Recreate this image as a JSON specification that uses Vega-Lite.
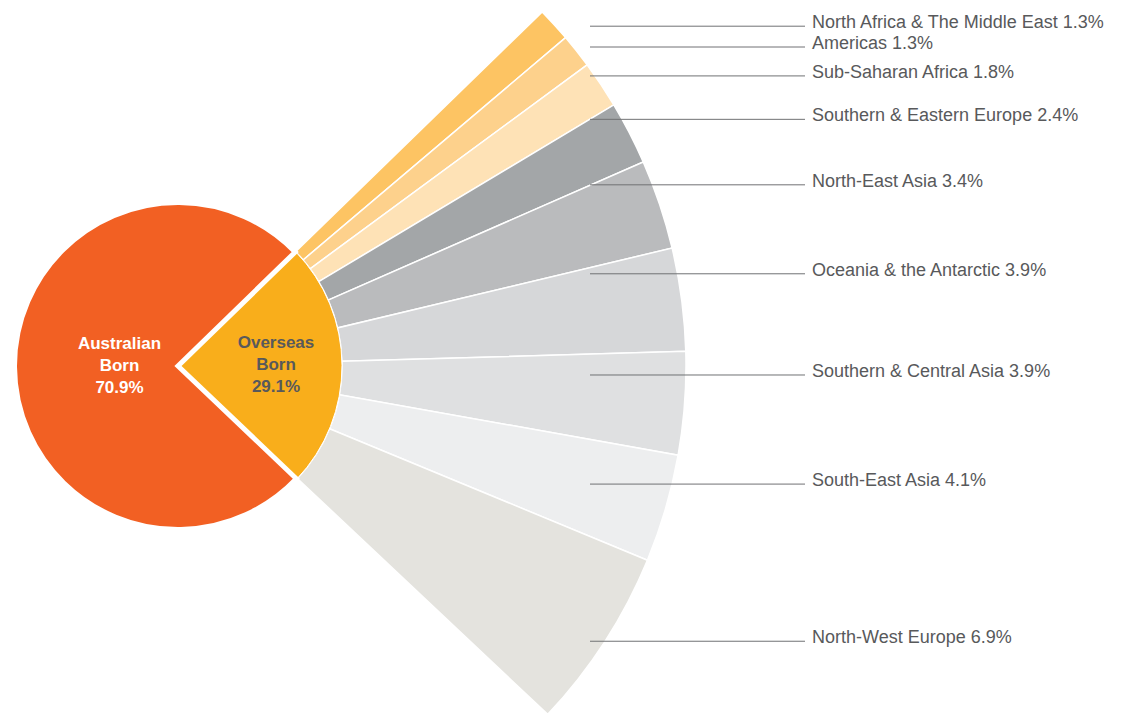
{
  "$schema": "https://vega.github.io/schema/vega-lite/v6.json",
  "padding": {"top": 8.5, "bottom": -8.5, "left": 0, "right": 0},
  "autosize": {"type": "pad"},
  "background": "white",
  "config": {"view": {"stroke": null}, "font": "Liberation Sans"},
  "datasets": {
    "born": [
      {"group": "Overseas Born", "share": 29.1},
      {"group": "Australian Born", "share": 70.9}
    ],
    "regions": [
      {"region": "North Africa & The Middle East", "share": 1.3},
      {"region": "Americas", "share": 1.3},
      {"region": "Sub-Saharan Africa", "share": 1.8},
      {"region": "Southern & Eastern Europe", "share": 2.4},
      {"region": "North-East Asia", "share": 3.4},
      {"region": "Oceania & the Antarctic", "share": 3.9},
      {"region": "Southern & Central Asia", "share": 3.9},
      {"region": "South-East Asia", "share": 4.1},
      {"region": "North-West Europe", "share": 6.9}
    ]
  },
  "spacing": 234,
  "bounds": "flush",
  "hconcat": [
    {
      "width": 356,
      "height": 713,
      "layer": [
        {
          "data": {"name": "regions"},
          "transform": [{"stack": "share", "groupby": [], "as": ["s0", "s1"]}],
          "mark": {"type": "arc", "radius": 508, "radius2": 164, "stroke": "white", "strokeWidth": 1.5},
          "encoding": {
            "theta": {"field": "s0", "type": "quantitative", "scale": {"domain": [0, 29.1, 100], "range": [0.7994, 2.3317, 7.0826]}},
            "theta2": {"field": "s1"},
            "color": {
              "field": "region",
              "type": "nominal",
              "scale": {
                "domain": ["North Africa & The Middle East", "Americas", "Sub-Saharan Africa", "Southern & Eastern Europe", "North-East Asia", "Oceania & the Antarctic", "Southern & Central Asia", "South-East Asia", "North-West Europe"],
                "range": ["#FDC463", "#FDD18C", "#FEE2B6", "#A3A6A8", "#BABBBD", "#D6D7D9", "#DFE0E1", "#EDEEEF", "#E4E3DE"]
              },
              "legend": null
            }
          }
        },
        {
          "data": {"name": "born"},
          "transform": [
            {"stack": "share", "groupby": [], "as": ["s0", "s1"]},
            {"filter": "datum.group === 'Overseas Born'"}
          ],
          "mark": {"type": "arc", "radius": 164, "color": "#F9AE1B", "stroke": "white", "strokeWidth": 1},
          "encoding": {
            "theta": {"field": "s0", "type": "quantitative", "scale": {"domain": [0, 29.1, 100], "range": [0.7994, 2.3317, 7.0826]}},
            "theta2": {"field": "s1"}
          }
        },
        {
          "data": {"name": "born"},
          "transform": [
            {"stack": "share", "groupby": [], "as": ["s0", "s1"]},
            {"filter": "datum.group === 'Australian Born'"}
          ],
          "mark": {"type": "arc", "radius": 163.5, "color": "#F26023", "stroke": "white", "strokeWidth": 5},
          "encoding": {
            "theta": {"field": "s0", "type": "quantitative", "scale": {"domain": [0, 29.1, 100], "range": [0.7994, 2.3317, 7.0826]}},
            "theta2": {"field": "s1"}
          }
        },
        {
          "data": {"name": "born"},
          "transform": [
            {"stack": "share", "groupby": [], "as": ["s0", "s1"]},
            {"fold": ["s0", "s1"]},
            {"aggregate": [{"op": "mean", "field": "value", "as": "mid"}], "groupby": ["group", "share"]},
            {"filter": "datum.group === 'Overseas Born'"}
          ],
          "mark": {
            "type": "text", "radius": 98, "align": "center", "baseline": "middle", "dy": -22,
            "fontSize": 17, "fontWeight": "bold", "lineHeight": 22, "color": "#58595B",
            "text": {"expr": "[split(datum.group, ' ')[0], split(datum.group, ' ')[1], format(datum.share, '.1f') + '%']"}
          },
          "encoding": {
            "theta": {"field": "mid", "type": "quantitative", "scale": {"domain": [0, 29.1, 100], "range": [0.7994, 2.3317, 7.0826]}}
          }
        },
        {
          "data": {"name": "born"},
          "transform": [
            {"stack": "share", "groupby": [], "as": ["s0", "s1"]},
            {"fold": ["s0", "s1"]},
            {"aggregate": [{"op": "mean", "field": "value", "as": "mid"}], "groupby": ["group", "share"]},
            {"filter": "datum.group === 'Australian Born'"}
          ],
          "mark": {
            "type": "text", "radius": 58.5, "align": "center", "baseline": "middle", "dy": -22,
            "fontSize": 17, "fontWeight": "bold", "lineHeight": 22, "color": "white",
            "text": {"expr": "[split(datum.group, ' ')[0], split(datum.group, ' ')[1], format(datum.share, '.1f') + '%']"}
          },
          "encoding": {
            "theta": {"field": "mid", "type": "quantitative", "scale": {"domain": [0, 29.1, 100], "range": [0.7994, 2.3317, 7.0826]}}
          }
        }
      ]
    },
    {
      "width": 215,
      "height": 713,
      "data": {"name": "regions"},
      "transform": [
        {"stack": "share", "groupby": [], "as": ["s0", "s1"]},
        {"fold": ["s0", "s1"]},
        {"aggregate": [{"op": "mean", "field": "value", "as": "mid"}], "groupby": ["region", "share"]}
      ],
      "layer": [
        {
          "mark": {"type": "rule", "color": "#707174", "strokeWidth": 1},
          "encoding": {
            "y": {"field": "mid", "type": "quantitative", "scale": {"type": "pow", "exponent": 1.2, "domain": [-0.755, 28.3], "reverse": true, "zero": false, "nice": false}, "axis": null}
          }
        },
        {
          "mark": {
            "type": "text", "align": "left", "baseline": "middle", "dx": 7, "dy": -3,
            "fontSize": 18, "color": "#58595B",
            "text": {"expr": "datum.region + ' ' + format(datum.share, '.1f') + '%'"}
          },
          "encoding": {
            "x": {"value": "width"},
            "y": {"field": "mid", "type": "quantitative", "scale": {"type": "pow", "exponent": 1.2, "domain": [-0.755, 28.3], "reverse": true, "zero": false, "nice": false}, "axis": null}
          }
        }
      ]
    }
  ]
}
